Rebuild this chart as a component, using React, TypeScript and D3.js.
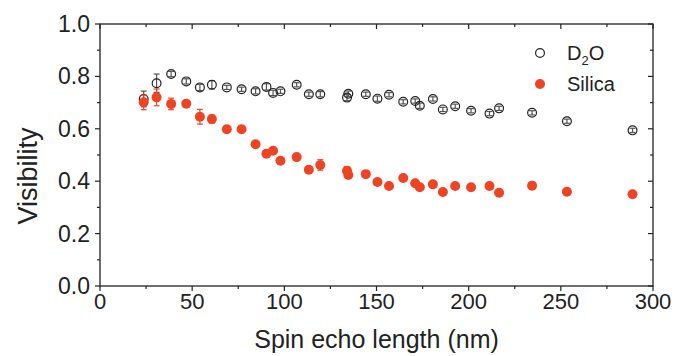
import { scaleLinear, range } from "d3";

const width = 675;
const height = 356;
const plot = { left: 100, right: 653, top: 24, bottom: 286 };

// spin echo length (nm), shared by both series
const spinEcho = [
  23.7, 30.7, 38.6, 46.8, 54.2, 60.7, 68.8, 76.8, 84.4, 90.3, 93.9, 97.9,
  106.7, 113.3, 119.5, 134.0, 134.7, 144.2, 150.5, 156.8, 164.5, 171.0,
  173.5, 180.6, 186.0, 192.7, 201.3, 211.3, 216.5, 234.4, 253.3, 288.9,
];

const d2oVis = [
  0.714, 0.774, 0.809, 0.781, 0.758, 0.768, 0.758, 0.751, 0.743, 0.76, 0.737,
  0.743, 0.768, 0.732, 0.732, 0.719, 0.734, 0.732, 0.715, 0.73, 0.703, 0.706,
  0.688, 0.714, 0.674, 0.686, 0.669, 0.658, 0.678, 0.661, 0.629, 0.594,
];
const d2oErr = [
  0.03, 0.035, 0.01, 0.01, 0.012, 0.016, 0.008, 0.008, 0.01, 0.012, 0.01,
  0.008, 0.008, 0.008, 0.01, 0.012, 0.01, 0.008, 0.01, 0.008, 0.008, 0.008,
  0.01, 0.008, 0.008, 0.008, 0.008, 0.008, 0.008, 0.008, 0.008, 0.008,
];

const silicaVis = [
  0.701, 0.72, 0.695, 0.696, 0.646, 0.637, 0.598, 0.598, 0.541, 0.505, 0.516,
  0.478, 0.492, 0.444, 0.462, 0.44, 0.424, 0.427, 0.397, 0.382, 0.412, 0.392,
  0.377, 0.388, 0.359, 0.382, 0.377, 0.382, 0.356, 0.383, 0.36, 0.35,
];
const silicaErr = [
  0.028, 0.032, 0.022, 0.01, 0.028, 0.015, 0.012, 0.012, 0.01, 0.012, 0.01,
  0.01, 0.01, 0.01, 0.02, 0.015, 0.012, 0.012, 0.01, 0.01, 0.01, 0.012, 0.01,
  0.01, 0.01, 0.01, 0.01, 0.012, 0.012, 0.01, 0.01, 0.01,
];

const xTicks = [0, 50, 100, 150, 200, 250, 300];
const yTicks = [0, 0.2, 0.4, 0.6, 0.8, 1.0];

const red = "#ef4423";
const ink = "#222";
const font = "'Liberation Sans', Arial, sans-serif";

export default function App() {
  const xScale = scaleLinear().domain([0, 300]).range([plot.left, plot.right]);
  const yScale = scaleLinear().domain([0, 1]).range([plot.bottom, plot.top]);

  const xMinor = range(0, 301, 25);
  const yMinor = range(0, 11).map((i) => i / 10);

  const errBar = (x: number, y: number, e: number, color: string, key: string) => {
    const px = xScale(x);
    const y1 = yScale(y + e);
    const y2 = yScale(y - e);
    return (
      <g key={key} stroke={color} strokeWidth={1.2}>
        <line x1={px} x2={px} y1={y1} y2={y2} />
        <line x1={px - 3} x2={px + 3} y1={y1} y2={y1} />
        <line x1={px - 3} x2={px + 3} y1={y2} y2={y2} />
      </g>
    );
  };

  return (
    <svg
      width={width}
      height={height}
      style={{ position: "absolute", left: 0, top: 0, background: "#fff" }}
      fontFamily={font}
    >
      {/* frame */}
      <rect
        x={plot.left}
        y={plot.top}
        width={plot.right - plot.left}
        height={plot.bottom - plot.top}
        fill="none"
        stroke={ink}
        strokeWidth={1.3}
      />

      {/* x ticks: outward at bottom, inward at top */}
      {xMinor.map((v) => {
        const major = v % 50 === 0;
        const len = major ? 5 : 3;
        return (
          <g key={"xt" + v} stroke={ink} strokeWidth={1.2}>
            <line x1={xScale(v)} x2={xScale(v)} y1={plot.bottom} y2={plot.bottom + len} />
            <line x1={xScale(v)} x2={xScale(v)} y1={plot.top} y2={plot.top + len} />
          </g>
        );
      })}
      {xTicks.map((v) => (
        <text
          key={"xl" + v}
          x={xScale(v)}
          y={plot.bottom + 23}
          textAnchor="middle"
          fontSize={22}
          fill={ink}
        >
          {v}
        </text>
      ))}

      {/* y ticks: outward at left, inward at right */}
      {yMinor.map((v, i) => {
        const major = i % 2 === 0;
        const len = major ? 5 : 3;
        return (
          <g key={"yt" + i} stroke={ink} strokeWidth={1.2}>
            <line x1={plot.left - len} x2={plot.left} y1={yScale(v)} y2={yScale(v)} />
            <line x1={plot.right - len} x2={plot.right} y1={yScale(v)} y2={yScale(v)} />
          </g>
        );
      })}
      {yTicks.map((v) => (
        <text
          key={"yl" + v}
          x={plot.left - 10}
          y={yScale(v) + 8}
          textAnchor="end"
          fontSize={23}
          fill={ink}
        >
          {v.toFixed(1)}
        </text>
      ))}

      {/* axis titles */}
      <text x={xScale(150)} y={348} textAnchor="middle" fontSize={25} fill={ink}>
        Spin echo length (nm)
      </text>
      <text
        transform="translate(37,176) rotate(-90)"
        textAnchor="middle"
        fontSize={27}
        fill={ink}
      >
        Visibility
      </text>

      {/* D2O */}
      {spinEcho.map((x, i) => errBar(x, d2oVis[i], d2oErr[i], "#555", "de" + i))}
      {spinEcho.map((x, i) => (
        <circle
          key={"d" + i}
          cx={xScale(x)}
          cy={yScale(d2oVis[i])}
          r={4.4}
          fill="none"
          stroke={ink}
          strokeWidth={1.2}
        />
      ))}

      {/* Silica */}
      {spinEcho.map((x, i) => errBar(x, silicaVis[i], silicaErr[i], red, "se" + i))}
      {spinEcho.map((x, i) => (
        <circle key={"s" + i} cx={xScale(x)} cy={yScale(silicaVis[i])} r={5} fill={red} />
      ))}

      {/* legend */}
      <circle cx={540} cy={53} r={4.4} fill="none" stroke={ink} strokeWidth={1.2} />
      <text x={567} y={60} fontSize={20} fill={ink}>
        D<tspan fontSize={13} dy={5}>2</tspan>
        <tspan dy={-5}>O</tspan>
      </text>
      <circle cx={540} cy={84} r={5} fill={red} />
      <text x={567} y={91} fontSize={20} fill={ink}>
        Silica
      </text>
    </svg>
  );
}
